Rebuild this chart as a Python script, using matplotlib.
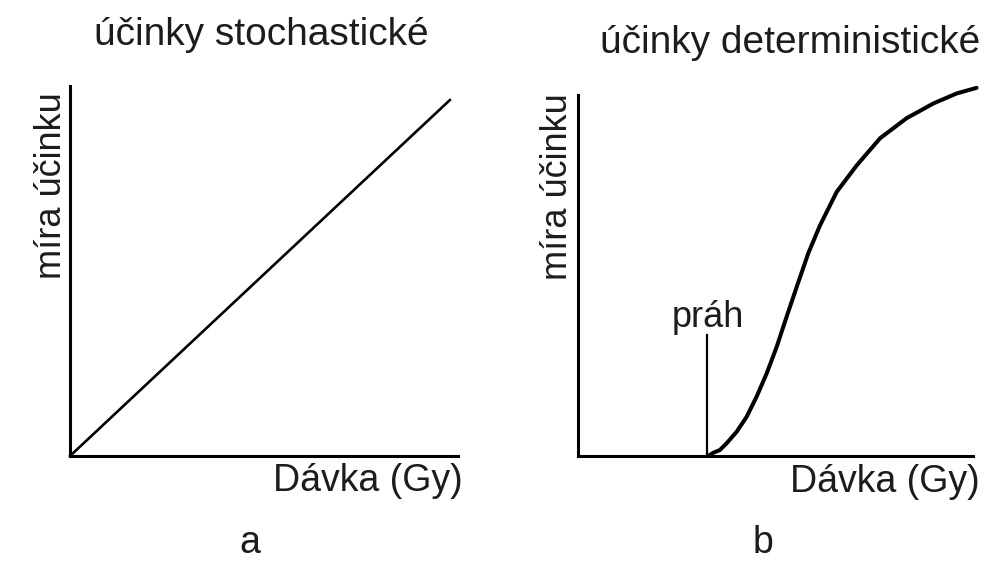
import matplotlib
matplotlib.use("Agg")
import matplotlib.pyplot as plt

plt.rcParams['font.family'] = ['Liberation Sans', 'DejaVu Sans']

# panel a - linear (no threshold)
stoch_dose = [0, 97.9]
stoch_effect = [0, 96.2]

# panel b - sigmoid starting at threshold
det_dose = [33.0, 34.3, 35.9, 37.6, 40.2, 42.7, 45.2, 47.8, 50.3, 52.8,
            55.4, 58.3, 61.3, 65.5, 70.6, 76.5, 83.2, 90.0, 95.9, 100.9]
det_effect = [0.0, 0.9, 1.6, 3.4, 6.6, 10.6, 16.0, 22.4, 29.5, 37.6,
              45.8, 54.8, 62.4, 71.4, 78.6, 85.9, 91.3, 95.3, 98.0, 99.5]
threshold_dose = 32.6
threshold_height = 32.7

titles = ["účinky stochastické", "účinky deterministické"]
xlabel = "Dávka (Gy)"
ylabel = "míra účinku"
panel_tags = ["a", "b"]

W, H = 992, 561
TXT = "#1c1c1c"

fig = plt.figure(figsize=(W / 100, H / 100), dpi=100)
fig.patch.set_facecolor("white")


def px(x, y):
    return x / W, 1 - y / H


def setup_axes(rect, ytop):
    ax = fig.add_axes(rect)
    ax.set_xlim(0, 100)
    ax.set_ylim(0, 100)
    for s in ["top", "right"]:
        ax.spines[s].set_visible(False)
    for s in ["left", "bottom"]:
        ax.spines[s].set_linewidth(2.2)
        ax.spines[s].set_color("black")
    ax.spines["left"].set_bounds(0, ytop)
    ax.set_xticks([])
    ax.set_yticks([])
    ax.patch.set_alpha(0)
    return ax


ax1 = setup_axes([70 / W, 105 / H, 388 / W, 370 / H], 100)
ax1.plot(stoch_dose, stoch_effect, color="black", lw=1.9, clip_on=False)

ax2 = setup_axes([578 / W, 105 / H, 395 / W, 370 / H], 97.6)
ax2.plot(det_dose, det_effect, color="black", lw=2.9, clip_on=False,
         solid_capstyle="round", solid_joinstyle="round")
ax2.plot([threshold_dose, threshold_dose], [0, threshold_height],
         color="black", lw=1.6)

fs = 27
fig.text(*px(261, 45), titles[0], ha="center", va="baseline", fontsize=28, color=TXT)
fig.text(*px(790, 53), titles[1], ha="center", va="baseline", fontsize=28, color=TXT)
fig.text(*px(463, 491), xlabel, ha="right", va="baseline", fontsize=fs, color=TXT)
fig.text(*px(980, 492), xlabel, ha="right", va="baseline", fontsize=fs, color=TXT)
fig.text(*px(61, 92), ylabel, ha="right", va="baseline", rotation=90,
         rotation_mode="anchor", fontsize=26, color=TXT)
fig.text(*px(567, 93), ylabel, ha="right", va="baseline", rotation=90,
         rotation_mode="anchor", fontsize=26, color=TXT)
fig.text(*px(708, 327), "práh", ha="center", va="baseline", fontsize=26, color=TXT)
fig.text(*px(250, 553), panel_tags[0], ha="center", va="baseline", fontsize=fs, color=TXT)
fig.text(*px(763, 553), panel_tags[1], ha="center", va="baseline", fontsize=fs, color=TXT)

fig.savefig("out.png", dpi=100, facecolor="white")
